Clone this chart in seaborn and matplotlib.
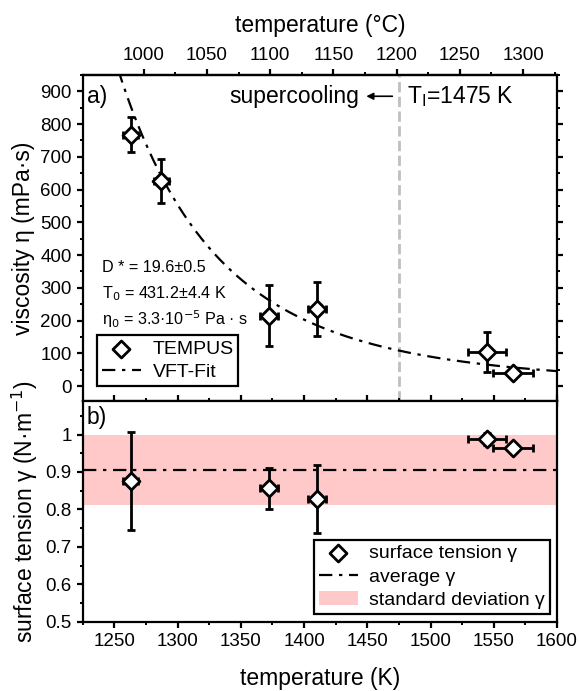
import numpy as np
import pandas as pd
import seaborn as sns
import matplotlib.pyplot as plt
from matplotlib.ticker import MultipleLocator, FixedLocator

# viscosity (TEMPUS)
visc_T = [1263, 1287, 1372, 1410, 1545, 1565]
visc_Terr = [6, 6, 7, 7, 15, 16]
visc_eta = [768, 626, 215, 235, 103, 39]
visc_err = [53, 68, 94, 83, 61, 6]

# VFT fit parameters
D_star = 19.6
T0 = 431.2
eta0 = 3.3e-5 * 1000  # mPa s

# surface tension
st_T = [1263, 1372, 1410, 1545, 1565]
st_Terr = [6, 7, 7, 15, 16]
st_gamma = [0.877, 0.856, 0.828, 0.988, 0.964]
st_err = [0.131, 0.055, 0.09, 0.015, 0.01]
st_mean = 0.906
st_std_lo, st_std_hi = 0.812, 1.0

T_liq = 1475
top_ticks_C = [1000, 1050, 1100, 1150, 1200, 1250, 1300]

sns.set_style('ticks')
plt.rcParams['font.family'] = ['Liberation Sans', 'DejaVu Sans']
plt.rcParams.update({'axes.linewidth': 1.6, 'axes.edgecolor': 'black',
                     'text.color': 'black', 'axes.labelcolor': 'black',
                     'xtick.color': 'black', 'ytick.color': 'black'})

TICK = 13.5
LAB = 16.5
LEG = 14
dashdot = (0, (6, 3, 1.5, 3))
leg_kw = dict(fontsize=LEG, frameon=True, fancybox=False, edgecolor='black',
              framealpha=1, handlelength=2.0, borderpad=0.25, labelspacing=0.3,
              handletextpad=0.6, borderaxespad=0)

fig = plt.figure(figsize=(5.79, 6.91), dpi=100)
ax1 = fig.add_axes([0.143, 0.420, 0.819, 0.4715])
ax2 = fig.add_axes([0.143, 0.100, 0.819, 0.320])

# ---- panel a ----
T_fit = np.linspace(1253, 1600, 300)
fit = pd.DataFrame({'T': T_fit, 'eta': eta0 * np.exp(D_star * T0 / (T_fit - T0))})
ax1.axvline(T_liq, color='#bfbfbf', ls='--', lw=2, zorder=1)
sns.lineplot(data=fit, x='T', y='eta', ax=ax1, color='black', lw=1.6,
             linestyle=dashdot, label='VFT-Fit', zorder=2)
ax1.errorbar(visc_T, visc_eta, yerr=visc_err, xerr=visc_Terr, fmt='none',
             ecolor='black', elinewidth=2, capsize=3, capthick=2, zorder=3)
sns.scatterplot(x=visc_T, y=visc_eta, ax=ax1, marker='D', s=75, color='white',
                edgecolor='black', linewidth=2, label='TEMPUS', zorder=4)
ax1.set_xlim(1225, 1600)
ax1.set_ylim(-45, 950)
ax1.yaxis.set_major_locator(MultipleLocator(100))
ax1.yaxis.set_minor_locator(MultipleLocator(50))
ax1.xaxis.set_major_locator(MultipleLocator(50))
ax1.xaxis.set_minor_locator(MultipleLocator(25))
ax1.tick_params(axis='x', which='both', labelbottom=False, direction='out')
ax1.tick_params(axis='y', which='both', right=True, direction='out')
ax1.tick_params(which='major', length=4.5, width=1.6, labelsize=TICK)
ax1.tick_params(which='minor', length=2.5, width=1.4)
ax1.set_xlabel('')
ax1.set_ylabel('viscosity η (mPa·s)', fontsize=LAB)

top = ax1.secondary_xaxis('top', functions=(lambda k: k - 273.15, lambda c: c + 273.15))
top.xaxis.set_major_locator(FixedLocator(top_ticks_C))
top.xaxis.set_minor_locator(FixedLocator([c + 25 for c in top_ticks_C]))
top.tick_params(which='major', length=4.5, width=1.6, labelsize=TICK, direction='out')
top.tick_params(which='minor', length=2.5, width=1.4, direction='out')
top.set_xlabel('temperature (°C)', fontsize=LAB, labelpad=11)

ax1.text(1228, 885, 'a)', fontsize=LAB, va='center')
ax1.text(1444, 885, 'supercooling', fontsize=LAB, va='center', ha='right')
ax1.annotate('', xy=(1447, 885), xytext=(1472, 885),
             arrowprops=dict(arrowstyle='-|>', color='black', lw=1.2, mutation_scale=10))
ax1.text(1481, 885, 'T$_\\mathrm{l}$=1475 K', fontsize=LAB, va='center')
ax1.text(1240.5, 362, 'D * = 19.6±0.5', fontsize=11.6, va='center')
ax1.text(1240.5, 283, 'T$_0$ = 431.2±4.4 K', fontsize=11.6, va='center')
ax1.text(1240.5, 204, 'η$_0$ = 3.3·10$^{-5}$ Pa · s', fontsize=11.6, va='center')

h, l = ax1.get_legend_handles_labels()
order = [l.index('TEMPUS'), l.index('VFT-Fit')]
leg1 = ax1.legend([h[i] for i in order], [l[i] for i in order], loc='lower left',
                  bbox_to_anchor=(0.03, 0.045), **leg_kw)
leg1.get_frame().set_linewidth(1.6)

# ---- panel b ----
ax2.axhspan(st_std_lo, st_std_hi, color='#ffc9c9', lw=0, label='standard deviation γ', zorder=1)
ax2.axhline(st_mean, color='black', lw=1.6, linestyle=dashdot,
            label='average γ', zorder=2)
ax2.errorbar(st_T, st_gamma, yerr=st_err, xerr=st_Terr, fmt='none',
             ecolor='black', elinewidth=2, capsize=3, capthick=2, zorder=3)
sns.scatterplot(x=st_T, y=st_gamma, ax=ax2, marker='D', s=75, color='white',
                edgecolor='black', linewidth=2, label='surface tension γ', zorder=4)
ax2.set_xlim(1225, 1600)
ax2.set_ylim(0.5, 1.09)
ax2.yaxis.set_minor_locator(MultipleLocator(0.05))
ax2.xaxis.set_major_locator(MultipleLocator(50))
ax2.xaxis.set_minor_locator(MultipleLocator(25))
ax2.set_yticks([0.5, 0.6, 0.7, 0.8, 0.9, 1.0])
ax2.set_yticklabels(['0.5', '0.6', '0.7', '0.8', '0.9', '1'])
ax2.tick_params(axis='x', which='both', top=True, direction='out')
ax2.tick_params(axis='y', which='both', direction='out')
ax2.tick_params(which='major', length=4.5, width=1.6, labelsize=TICK)
ax2.tick_params(which='minor', length=2.5, width=1.4)
ax2.set_xlabel('temperature (K)', fontsize=LAB, labelpad=12)
ax2.set_ylabel('surface tension γ (N·m$^{-1}$)', fontsize=LAB)
ax2.text(1228, 1.046, 'b)', fontsize=LAB, va='center')

h, l = ax2.get_legend_handles_labels()
order = [l.index('surface tension γ'), l.index('average γ'), l.index('standard deviation γ')]
leg2 = ax2.legend([h[i] for i in order], [l[i] for i in order], loc='lower right',
                  bbox_to_anchor=(0.985, 0.036), **leg_kw)
leg2.get_frame().set_linewidth(1.6)

fig.align_ylabels([ax1, ax2])
fig.savefig('out.png', dpi=100)
